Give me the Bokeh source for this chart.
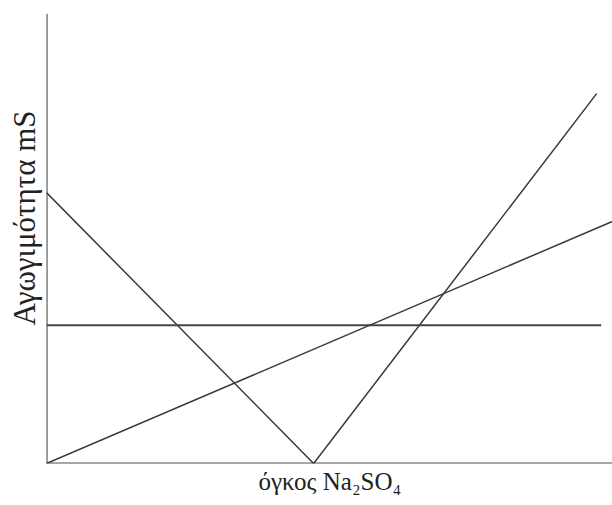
from bokeh.plotting import figure
from bokeh.models import Range1d, Title
from bokeh.embed import file_html
from bokeh.resources import INLINE

# V-shaped curve (titration conductivity)
v_x = [0, 4.72, 9.72]
v_y = [6.02, 0, 8.22]
# horizontal line
h_x = [0, 9.8]
h_y = [3.07, 3.07]
# rising straight line
r_x = [0, 10]
r_y = [0, 5.38]

x_label = "όγκος Na₂SO₄"
y_label = "Αγωγιμότητα mS"

p = figure(width=612, height=505, output_backend="svg", toolbar_location=None,
           x_range=Range1d(0, 10), y_range=Range1d(0, 10),
           min_border_left=46, min_border_right=0, min_border_top=13, min_border_bottom=42)
p.axis.visible = False
p.grid.visible = False
p.outline_line_color = None

line_color = "#3a3a3a"
# axes lines
p.line([0, 0], [0, 10], line_color="#505050", line_width=2.2)
p.line([0, 10], [0, 0], line_color="#505050", line_width=2.2)

p.line(v_x, v_y, line_color=line_color, line_width=1.5)
p.line(h_x, h_y, line_color="#454545", line_width=2.0)
p.line(r_x, r_y, line_color=line_color, line_width=1.5)

font = "Liberation Serif"
p.add_layout(Title(text=y_label, align="left", offset=138, standoff=9,
                   text_font=font, text_font_size="31px", text_font_style="normal",
                   text_color="#222222"), "left")
p.add_layout(Title(text=x_label, align="left", offset=212, standoff=9,
                   vertical_align="top",
                   text_font=font, text_font_size="25px", text_font_style="normal",
                   text_color="#222222"), "below")

open("out.html", "w").write(file_html(p, INLINE))
